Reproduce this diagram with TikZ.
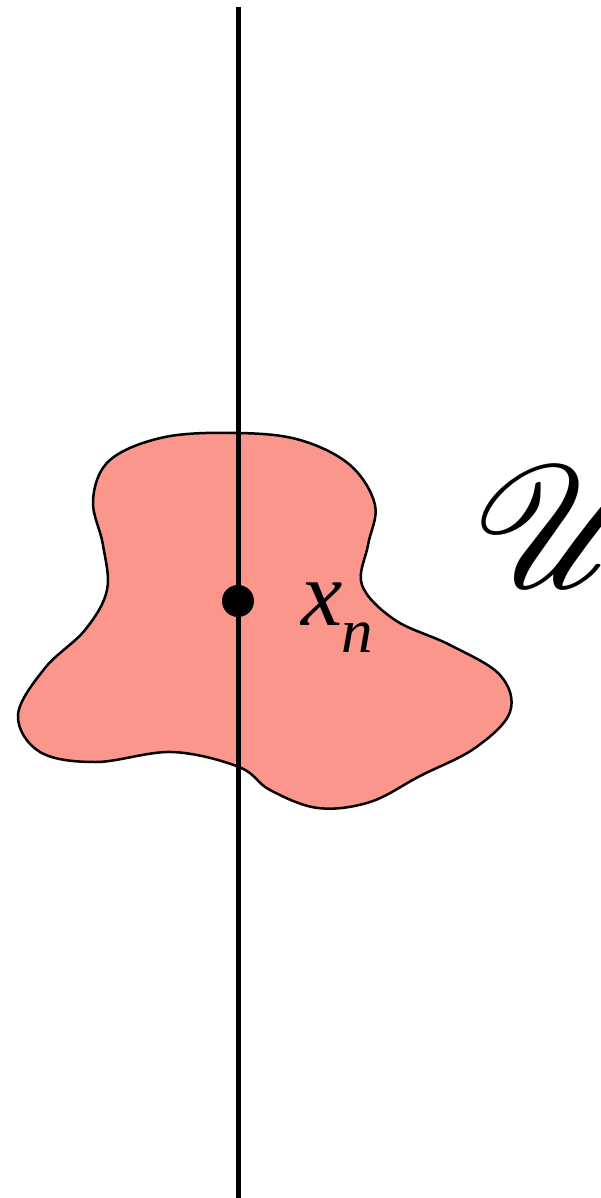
\documentclass[tikz,border=0pt]{standalone}
\usepackage{mathrsfs}
\usepackage{fontspec}
\newfontfamily\timesit{Liberation Serif Italic}
\begin{document}
\begin{tikzpicture}[x=0.1pt,y=-0.1pt]
\definecolor{blobred}{RGB}{250,150,140}
\tikzset{blobline/.style={draw=black, fill=blobred, line width=0.25pt},
  axisline/.style={draw=black, line width=0.5pt},
  ptdot/.style={circle, fill=black, inner sep=0pt, minimum size=3.2pt}}
\useasboundingbox (0,0) rectangle (600,1198);
\path[blobline] plot[smooth cycle, tension=0.6] coordinates {
 (239,433) (300,440) (350,465) (375,505) (368,545) (362,585) (395,620) (450,645)
 (500,675) (510,712) (475,748) (420,776) (370,802) (318,808) (270,790) (239,767)
 (172,752) (96,762) (40,752) (18,715) (45,668) (85,630) (107,590)
 (103,545) (93,500) (110,460) (165,437)};
\coordinate (top) at (238,7);
\coordinate (bot) at (238,1198);
\path[axisline] (top) -- (bot);
\node[ptdot] (xn) at (238,601) {};
\node[anchor=base west, inner sep=0pt] (lbl) at (300,625)
  {\timesit\fontsize{9.3}{11}\selectfont x\kern-0.2pt\raisebox{-2.7pt}{\fontsize{6.3}{7}\selectfont n}};
\node[anchor=base west, inner sep=0pt] (U) at (470,587) {\fontsize{17}{20}\selectfont$\mathscr{U}$};
\end{tikzpicture}
\end{document}
